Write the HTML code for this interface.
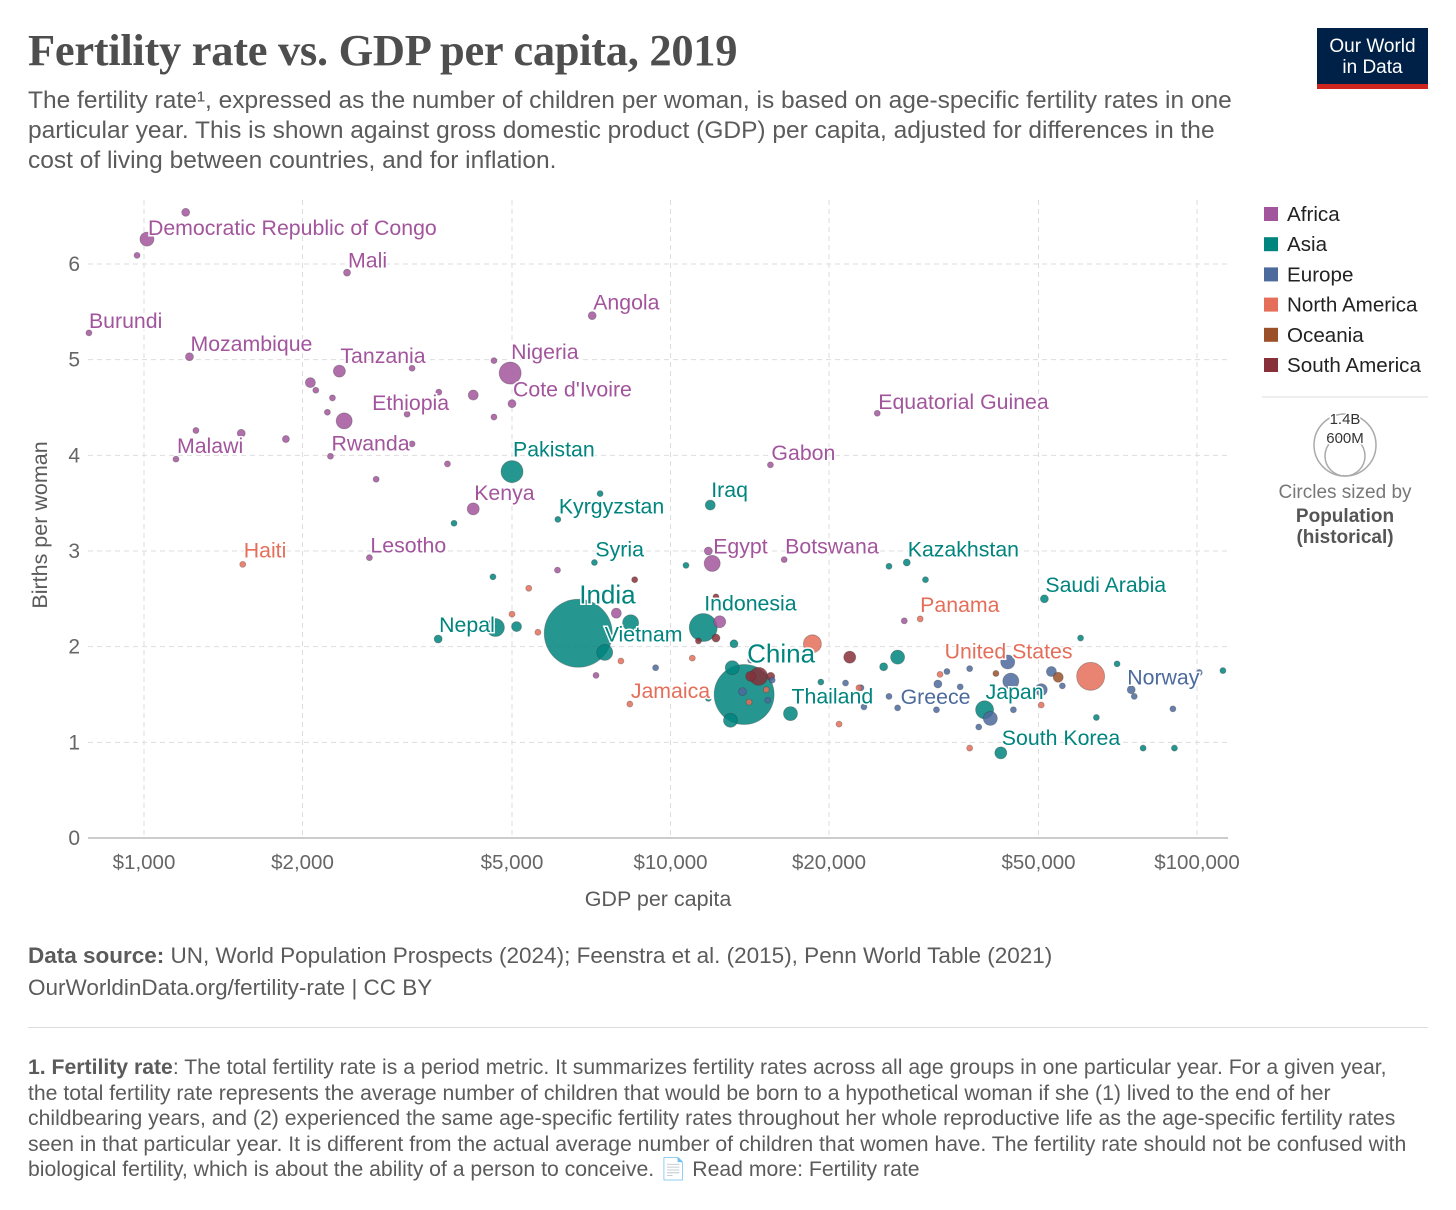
<!DOCTYPE html>
<html><head><meta charset="utf-8">
<style>
body{margin:0;background:#fff;width:1456px;height:1210px;overflow:hidden;font-family:"Liberation Sans",sans-serif;position:relative}
.abs{position:absolute}
#title{left:28px;top:24px;font-family:"Liberation Serif",serif;font-weight:bold;font-size:44.5px;color:#4e4e4e;letter-spacing:-0.3px}
#subtitle{left:28px;top:86px;width:1238px;font-size:24.5px;line-height:30px;color:#5b5b5b}
#logo{left:1317px;top:28px;width:111px;height:61px;background:#002147;color:#fff;text-align:center;font-size:19px;line-height:21px;padding-top:8px;box-sizing:border-box}
#logo .bar{position:absolute;left:0;bottom:0;width:100%;height:5px;background:#ce261e}
#source{left:28px;top:940px;font-size:22.5px;line-height:32px;color:#5b5b5b}
#sep{left:28px;top:1027px;width:1400px;height:1px;background:#ddd}
#foot{left:28px;top:1055px;width:1380px;font-size:21.2px;line-height:25.5px;color:#5b5b5b}
</style></head><body>
<div class="abs" id="title">Fertility rate vs. GDP per capita, 2019</div>
<div class="abs" id="subtitle">The fertility rate¹, expressed as the number of children per woman, is based on age-specific fertility rates in one particular year. This is shown against gross domestic product (GDP) per capita, adjusted for differences in the cost of living between countries, and for inflation.</div>
<div class="abs" id="logo">Our World<br>in Data<div class="bar"></div></div>
<svg class="abs" id="chart" style="left:0;top:0" width="1456" height="930"></svg>
<div class="abs" id="source"><b>Data source:</b> UN, World Population Prospects (2024); Feenstra et al. (2015), Penn World Table (2021)<br>OurWorldinData.org/fertility-rate | CC BY</div>
<div class="abs" id="sep"></div>
<div class="abs" id="foot"><b>1. Fertility rate</b>: The total fertility rate is a period metric. It summarizes fertility rates across all age groups in one particular year. For a given year, the total fertility rate represents the average number of children that would be born to a hypothetical woman if she (1) lived to the end of her childbearing years, and (2) experienced the same age-specific fertility rates throughout her whole reproductive life as the age-specific fertility rates seen in that particular year. It is different from the actual average number of children that women have. The fertility rate should not be confused with biological fertility, which is about the ability of a person to conceive. 📄 Read more: Fertility rate</div>
<script>
const regions=["Africa","Asia","Europe","North America","Oceania","South America"];
const regionColors=["#a2559c","#00847e","#4c6a9c","#e56e5a","#9a5129","#883039"];
const xTicks=[1000,2000,5000,10000,20000,50000,100000];
const xTickLabels=["$1,000","$2,000","$5,000","$10,000","$20,000","$50,000","$100,000"];
const yTicks=[0,1,2,3,4,5,6];
// [gdp, fertility, radius, regionIndex, label, labelDx, labelDy]
const points=[
[1013,6.26,7,0,"Democratic Republic of Congo",1,-4],[1200,6.54,4,0],[970,6.09,3,0],
[2430,5.91,3.5,0,"Mali",1,-5],[7100,5.46,4,0,"Angola",1,-6],[786,5.28,3,0,"Burundi",0,-5],
[1220,5.03,4,0,"Mozambique",1,-6],[2350,4.88,6,0,"Tanzania",1,-8],[4960,4.86,11,0,"Nigeria",1,-14],
[4620,4.99,3,0],[3230,4.91,3,0],[2070,4.76,5,0],[2120,4.68,3,0],[2280,4.6,3,0],
[5000,4.54,4,0,"Cote d'Ivoire",1,-7],[4220,4.63,5,0],[3630,4.66,3,0],[2400,4.36,8,0,"Ethiopia",28,-11],
[2230,4.45,3,0],[3160,4.43,3,0],[4620,4.4,3,0],[1255,4.26,3,0],[1530,4.23,4,0],[1860,4.17,3.5,0],
[1150,3.96,3,0,"Malawi",1,-6],[2260,3.99,3,0,"Rwanda",1,-6],[3230,4.12,3,0],[3770,3.91,3,0],[2760,3.75,3,0],
[15480,3.9,3,0,"Gabon",1,-5],[4220,3.44,6,0,"Kenya",1,-9],[2680,2.93,3,0,"Lesotho",1,-5],
[12000,2.87,8,0,"Egypt",1,-10],[11800,3.0,4,0],[16440,2.91,3,0,"Botswana",1,-6],
[24700,4.44,3,0,"Equatorial Guinea",1,-4],[7890,2.35,5,0],[12400,2.26,6,0],[6100,2.8,3,0],[7220,1.7,3,0],[27800,2.27,3,0],
[5000,3.83,11,1,"Pakistan",1,-15],[7350,3.6,3,1],[6110,3.33,3,1,"Kyrgyzstan",1,-6],[3880,3.29,3,1],
[11900,3.48,5,1,"Iraq",1,-8],[7170,2.88,3,1,"Syria",1,-6],[10700,2.85,3,1],[28100,2.88,3.5,1,"Kazakhstan",1,-6],
[26000,2.84,3,1],[30500,2.7,3,1],[4600,2.73,3,1],[51300,2.5,4,1,"Saudi Arabia",1,-7],
[6680,2.14,34,1],[4650,2.2,9,1],[5100,2.21,5,1],[3620,2.08,4,1,"Nepal",1,-7],[8400,2.25,8,1],
[7500,1.94,8,1,"Vietnam",0,-11],[11540,2.2,14,1,"Indonesia",1,-17],[13200,2.03,4,1],[27000,1.89,7,1],[25400,1.79,4,1],
[13800,1.5,30,1],[13100,1.78,7,1],[16900,1.3,7,1,"Thailand",1,-10],[19300,1.63,3,1],[60100,2.09,3,1],
[70500,1.82,3,1],[64400,1.26,3,1],[79000,0.94,3,1],[90600,0.94,3,1],[112000,1.75,3,1],
[39500,1.34,9,1,"Japan",1,-11],[42400,0.89,6,1,"South Korea",1,-8],[13000,1.23,7,1],[11800,1.46,3,1],
[9370,1.78,3,2],[43700,1.84,7,2],[44300,1.64,8,2],[40500,1.25,7,2],[50600,1.55,6,2],[52900,1.74,5,2],
[75000,1.55,4,2,"Norway",-4,-5],[76000,1.48,3,2],[90000,1.35,3,2],[32200,1.61,4,2],[33500,1.74,3,2],[37000,1.77,3,2],
[35500,1.58,3,2],[32000,1.34,3,2],[26000,1.48,3,2],[23000,1.57,3,2],[23300,1.37,3,2],[27000,1.36,3,2,"Greece",3,-4],
[44800,1.34,3,2],[55500,1.59,3,2],[38500,1.16,3,2],[13700,1.53,4,2],[14200,1.86,3,2],[15300,1.44,3,2],
[21500,1.62,3,2],[101000,1.73,3,2],[15600,1.65,3,2],
[1540,2.86,3,3,"Haiti",1,-7],[5380,2.61,3,3],[5000,2.34,3,3],[5600,2.15,3,3],[8050,1.85,3,3],[11000,1.88,3,3],
[8370,1.4,3,3,"Jamaica",1,-6],[18600,2.03,9,3],[29800,2.29,3,3,"Panama",0,-7],[62800,1.69,14,3,"United States",-146,-18],
[20900,1.19,3,3],[22800,1.57,3,3],[32500,1.71,3,3],[37000,0.94,3,3],[50600,1.39,3,3],[15200,1.55,3,3],[14100,1.42,3,3],
[54500,1.68,5,4],[41500,1.72,3,4],
[14700,1.69,9,5],[21900,1.89,6,5],[8550,2.7,3,5],[12200,2.52,3,5],[12200,2.09,4,5],[11300,2.06,3,5],[15500,1.69,4,5],[14200,1.69,5,5]
];
const NS="http://www.w3.org/2000/svg";
const svg=document.getElementById('chart');
const X0=144,DEC=526.5,Y0=838,YU=95.67,LEFT=88,RIGHT=1228,TOP=200;
const xs=v=>X0+Math.log10(v/1000)*DEC;
const ys=v=>Y0-v*YU;
function mk(tag,attrs,parent){const e=document.createElementNS(NS,tag);for(const k in attrs)e.setAttribute(k,attrs[k]);(parent||svg).appendChild(e);return e;}
yTicks.forEach(t=>{
  if(t>0){const l=mk('line',{x1:LEFT,x2:RIGHT,y1:ys(t),y2:ys(t),stroke:'#ddd','stroke-dasharray':'5,4'});
  
  }
  const tx=mk('text',{x:80,y:ys(t)+7,'text-anchor':'end','font-size':21,fill:'#666'});tx.textContent=t;
  
  
});
xTicks.forEach((t,i)=>{
  const l=mk('line',{x1:xs(t),x2:xs(t),y1:TOP,y2:Y0,stroke:'#ddd','stroke-dasharray':'5,4'});
  
  
  const tx=mk('text',{x:xs(t),y:869,'text-anchor':'middle','font-size':20.5,fill:'#666'});tx.textContent=xTickLabels[i];
  
  
});
const ax=mk('line',{x1:LEFT,x2:RIGHT,y1:Y0,y2:Y0,stroke:'#999'});


const xt=mk('text',{x:658,y:906,'text-anchor':'middle','font-size':21.5,fill:'#5b5b5b'});xt.textContent='GDP per capita';


const yt=mk('text',{x:0,y:0,transform:'translate(47,525) rotate(-90)','text-anchor':'middle','font-size':21.5,fill:'#5b5b5b'});yt.textContent='Births per woman';


const sorted=points.slice().sort((a,b)=>b[2]-a[2]);
sorted.forEach(p=>{
  const c=mk('circle',{cx:xs(p[0]),cy:ys(p[1]),r:p[2],fill:regionColors[p[3]],'fill-opacity':0.85,stroke:'#333','stroke-opacity':0.35,'stroke-width':0.8});
  
  
});
points.forEach(p=>{if(!p[4])return;
  const tx=mk('text',{x:xs(p[0])+p[5],y:ys(p[1])+p[6],'font-size':21.3,fill:regionColors[p[3]],stroke:'#fff','stroke-width':3,'paint-order':'stroke'});
  tx.textContent=p[4];
  
  
});
[[6680,2.14,"India",1,-30],[13800,1.5,"China",3,-32]].forEach(p=>{
  const tx=mk('text',{x:xs(p[0])+p[3],y:ys(p[1])+p[4],'font-size':26,fill:regionColors[1],stroke:'#fff','stroke-width':3,'paint-order':'stroke'});
  tx.textContent=p[2];
  
  
});
regions.forEach((r,i)=>{
  const y=214+i*30.2;
  const s=mk('rect',{x:1264,y:y-7,width:14,height:14,fill:regionColors[i]});
  
  
  const t=mk('text',{x:1287,y:y+7,'font-size':20.6,fill:'#222'});t.textContent=r;
  
  
});
mk('line',{x1:1262,x2:1428,y1:397,y2:397,stroke:'#ddd'});
mk('circle',{cx:1345,cy:445,r:31,fill:'none',stroke:'#aaa','stroke-width':1.5});
mk('circle',{cx:1345,cy:456,r:20,fill:'none',stroke:'#aaa','stroke-width':1.5});
[["1.4B",424,15],["600M",443,15]].forEach(a=>{const t=mk('text',{x:1345,y:a[1],'text-anchor':'middle','font-size':a[2],fill:'#333',stroke:'#fff','stroke-width':3,'paint-order':'stroke'});t.textContent=a[0];
  
  });
[["Circles sized by",498,'normal','#777'],["Population",522,'bold','#555'],["(historical)",543,'bold','#555']].forEach(a=>{const t=mk('text',{x:1345,y:a[1],'text-anchor':'middle','font-size':19,'font-weight':a[2],fill:a[3]});t.textContent=a[0];
  
  });
</script>
</body></html>
